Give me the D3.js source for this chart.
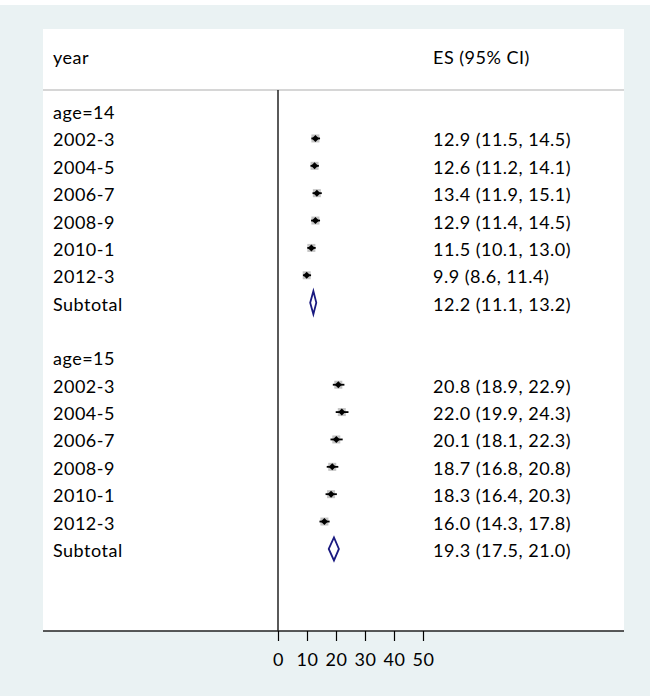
<!DOCTYPE html>
<html><head><meta charset="utf-8">
<script src="https://cdn.jsdelivr.net/npm/d3@7"></script>
<style>body{margin:0;background:#fff}svg{display:block}text{font-family:Lato,"Open Sans",sans-serif;fill:#000;letter-spacing:0.5px}</style>
</head><body>
<script>
const years = ["2002-3","2004-5","2006-7","2008-9","2010-1","2012-3"];
const groups = ["age=14","age=15"];
const es14 = [12.9,12.6,13.4,12.9,11.5,9.9];
const lo14 = [11.5,11.2,11.9,11.4,10.1,8.6];
const hi14 = [14.5,14.1,15.1,14.5,13.0,11.4];
const sub14 = [12.2,11.1,13.2];
const es15 = [20.8,22.0,20.1,18.7,18.3,16.0];
const lo15 = [18.9,19.9,18.1,16.8,16.4,14.3];
const hi15 = [22.9,24.3,22.3,20.8,20.3,17.8];
const sub15 = [19.3,17.5,21.0];
const xTicks = [0,10,20,30,40,50];

const W=656,H=696,FS=18;
const svg=d3.select("body").append("svg").attr("width",W).attr("height",H);
svg.append("rect").attr("x",0).attr("y",5).attr("width",650).attr("height",H-5).attr("fill","#EAF2F3");
const L=43,R=624,T=29,B=631;
svg.append("rect").attr("x",L).attr("y",T).attr("width",R-L).attr("height",B-T).attr("fill","#fff");

const x=d3.scaleLinear().domain([0,50]).range([278,423]);
const y=d3.scaleLinear().domain([-3,19]).range([T,B]);
const fmt=d3.format(".1f");
const lab=(e,l,h)=>`${fmt(e)} (${fmt(l)}, ${fmt(h)})`;

const rows=[];
const gdata=[[es14,lo14,hi14,sub14],[es15,lo15,hi15,sub15]];
gdata.forEach((g,gi)=>{
  const base=gi*9;
  rows.push({k:base,label:groups[gi],type:"head"});
  years.forEach((yr,i)=>rows.push({k:base+1+i,label:yr,type:"study",es:g[0][i],lo:g[1][i],hi:g[2][i]}));
  rows.push({k:base+7,label:"Subtotal",type:"sub",es:g[3][0],lo:g[3][1],hi:g[3][2]});
});

svg.append("text").attr("x",53).attr("y",y(-2)+8).attr("font-size",FS).text("year");
svg.append("text").attr("x",433).attr("y",y(-2)+8).attr("font-size",FS).text("ES (95% CI)");
svg.append("line").attr("x1",L).attr("x2",R).attr("y1",y(-0.77)).attr("y2",y(-0.77)).attr("stroke","#c8c8c8").attr("stroke-width",1.5);

svg.append("line").attr("x1",x(0)).attr("x2",x(0)).attr("y1",y(-0.77)).attr("y2",B).attr("stroke","#000").attr("stroke-width",1.3);

svg.selectAll("text.lab").data(rows).join("text").attr("class","lab")
  .attr("x",53).attr("y",d=>y(d.k)+8).attr("font-size",FS).text(d=>d.label);
svg.selectAll("text.es").data(rows.filter(d=>d.type!=="head")).join("text").attr("class","es")
  .attr("x",433).attr("y",d=>y(d.k)+8).attr("font-size",FS).text(d=>lab(d.es,d.lo,d.hi));

const st=rows.filter(d=>d.type==="study");
svg.selectAll("rect.box").data(st).join("rect").attr("class","box")
  .attr("x",d=>x(d.es)-4).attr("y",d=>y(d.k)-4).attr("width",8).attr("height",8).attr("fill","#c4c4c4");
svg.selectAll("line.ci").data(st).join("line").attr("class","ci")
  .attr("x1",d=>x(d.lo)).attr("x2",d=>x(d.hi)).attr("y1",d=>y(d.k)).attr("y2",d=>y(d.k)).attr("stroke","#000").attr("stroke-width",1.8);
svg.selectAll("path.pt").data(st).join("path").attr("class","pt")
  .attr("d",d=>{const cx=x(d.es),cy=y(d.k);return `M${cx-3.5},${cy}L${cx},${cy-3.5}L${cx+3.5},${cy}L${cx},${cy+3.5}Z`;}).attr("fill","#000");

const sb=rows.filter(d=>d.type==="sub");
svg.selectAll("path.dia").data(sb).join("path").attr("class","dia")
  .attr("d",d=>{const cy=y(d.k);return `M${x(d.lo)},${cy}L${x(d.es)},${cy-11.5}L${x(d.hi)},${cy}L${x(d.es)},${cy+11.5}Z`;})
  .attr("fill","none").attr("stroke","#1a1a80").attr("stroke-width",1.8);

svg.append("line").attr("x1",L).attr("x2",R).attr("y1",B).attr("y2",B).attr("stroke","#222").attr("stroke-width",1.5);
const ax=svg.append("g").attr("transform",`translate(0,${B})`)
  .call(d3.axisBottom(x).tickValues(xTicks).tickSize(10).tickPadding(12).tickFormat(d3.format("d")));
ax.select(".domain").remove();
ax.selectAll(".tick line").attr("stroke","#000").attr("stroke-width",1.2);
ax.selectAll(".tick text").attr("font-size",FS).attr("font-family","Lato,sans-serif").attr("fill","#000");
</script>
</body></html>
